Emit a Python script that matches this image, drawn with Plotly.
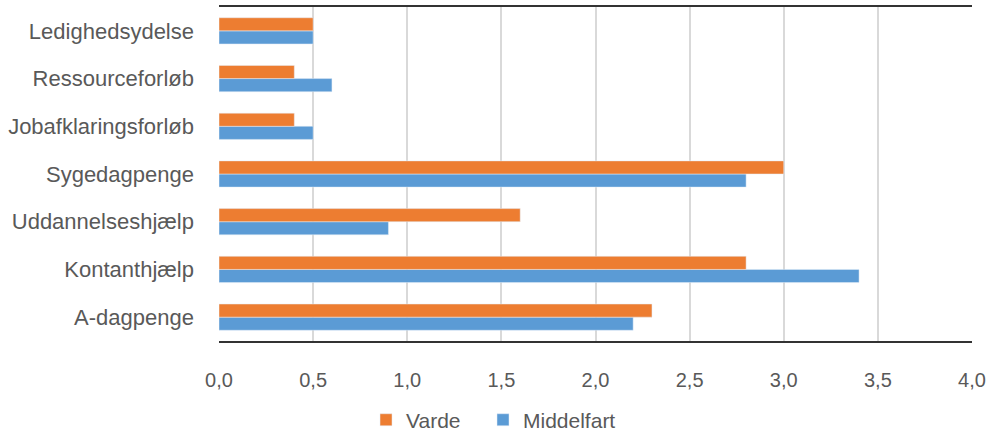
import plotly.graph_objects as go

categories = ["A-dagpenge", "Kontanthjælp", "Uddannelseshjælp", "Sygedagpenge",
              "Jobafklaringsforløb", "Ressourceforløb", "Ledighedsydelse"]
varde = [2.3, 2.8, 1.6, 3.0, 0.4, 0.4, 0.5]
middelfart = [2.2, 3.4, 0.9, 2.8, 0.5, 0.6, 0.5]
tick_vals = [0, 0.5, 1.0, 1.5, 2.0, 2.5, 3.0, 3.5, 4.0]
tick_text = ["0,0", "0,5", "1,0", "1,5", "2,0", "2,5", "3,0", "3,5", "4,0"]

fig = go.Figure()
fig.add_trace(go.Bar(y=categories, x=middelfart, name="Middelfart", orientation="h",
                     marker_color="#5B9BD5"))
fig.add_trace(go.Bar(y=categories, x=varde, name="Varde\u00a0\u00a0\u00a0", orientation="h",
                     marker_color="#ED7D31"))

fig.update_layout(
    width=991, height=434,
    margin=dict(l=219, r=19, t=7, b=93, autoexpand=False),
    barmode="group", bargap=0.45, bargroupgap=0,
    plot_bgcolor="white", paper_bgcolor="white",
    font=dict(family="Liberation Sans", size=20, color="#595959"),
    legend=dict(orientation="h", traceorder="reversed", xref="container", x=0.498,
                xanchor="center", yref="container", y=0.032, yanchor="middle",
                font=dict(size=21, color="#595959")),
    xaxis=dict(range=[0, 4.0], tickvals=tick_vals, ticktext=tick_text,
               showgrid=True, gridcolor="#d9d9d9", gridwidth=1.5,
               showline=True, linecolor="#333333", linewidth=1.5, mirror=True,
               zeroline=False, ticks="", ticklabelstandoff=20, automargin=False,
               tickfont=dict(size=20)),
    yaxis=dict(showgrid=False, showline=False, ticks="", ticklabelstandoff=24,
               automargin=False, tickfont=dict(size=22)),
)
fig.write_html("out.html", config={"displayModeBar": False},
               post_script="document.body.style.margin='0';document.body.style.overflow='hidden';")
